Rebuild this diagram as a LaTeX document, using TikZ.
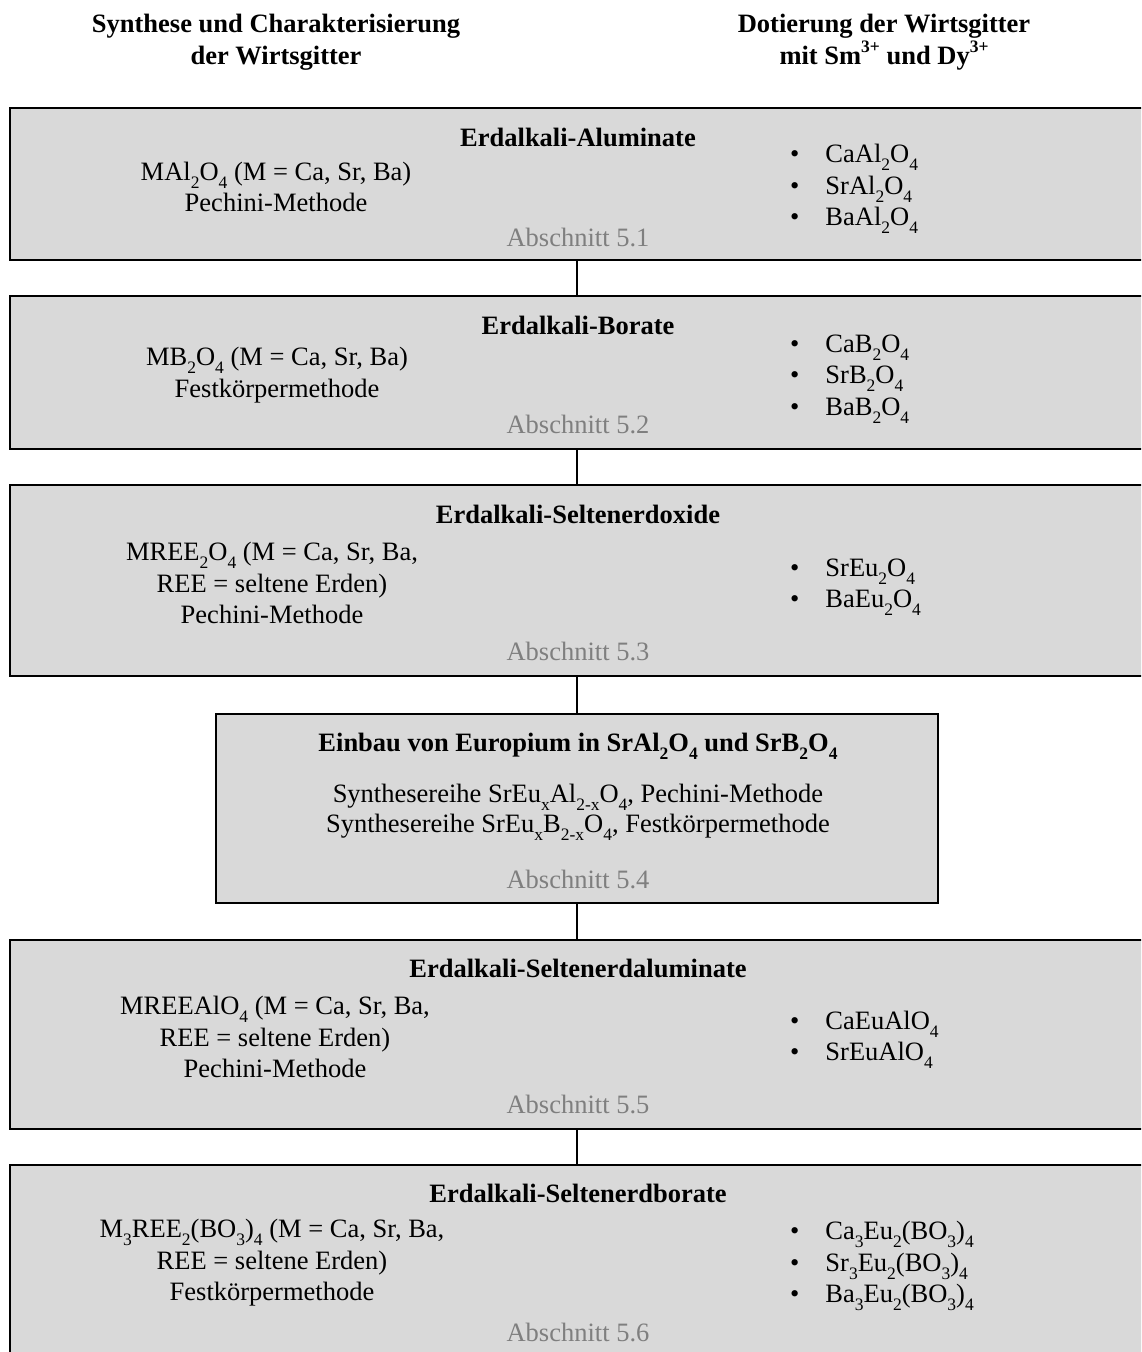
\documentclass[tikz,border=0pt]{standalone}
\usepackage{fontspec}
\setmainfont{Liberation Serif}
\newcommand{\chsub}[1]{\raisebox{-0.3em}{\fontsize{17.5}{17.5}\selectfont #1}}
\newcommand{\chsup}[1]{\raisebox{0.42em}{\fontsize{17.5}{17.5}\selectfont #1}}
\newcommand{\blt}{\textbullet\hspace{26pt}}
\definecolor{boxgray}{HTML}{D9D9D9}
\definecolor{secgray}{HTML}{7F7F7F}
\tikzset{
  box/.style={draw=black, fill=boxgray, line width=2.6pt, rectangle, outer sep=0pt, inner sep=0pt, anchor=north west},
  conn/.style={draw=black, line width=2.6pt},
  txt/.style={inner sep=0pt, font=\fontsize{26.5}{31.5}\selectfont, align=center},
  ttl/.style={txt, font=\fontsize{26.5}{31.5}\selectfont\bfseries},
  sec/.style={txt, text=secgray},
  blist/.style={txt, align=left, anchor=west},
}
\begin{document}
\begin{tikzpicture}[x=1pt,y=-1pt]
\useasboundingbox (0,0) rectangle (1141,1352);
\clip (0,0) rectangle (1141,1352);

% headers
\node[ttl] (hl) at (276,42) {Synthese und Charakterisierung\\der Wirtsgitter};
\node[ttl] (hr) at (884,42) {Dotierung der Wirtsgitter\\mit Sm\chsup{3+} und Dy\chsup{3+}};

% boxes
\node[box, minimum width=1180, minimum height=152] (b1) at (10,108) {};
\node[box, minimum width=1180, minimum height=153] (b2) at (10,296) {};
\node[box, minimum width=1180, minimum height=191] (b3) at (10,485) {};
\node[box, minimum width=722, minimum height=189] (b4) at (216,714) {};
\node[box, minimum width=1180, minimum height=189] (b5) at (10,940) {};
\node[box, minimum width=1180, minimum height=240] (b6) at (10,1165) {};

% connectors
\draw[conn] (b1.south -| b4.north) -- (b2.north -| b4.north);
\draw[conn] (b2.south -| b4.north) -- (b3.north -| b4.north);
\draw[conn] (b3.south -| b4.north) -- (b4.north);
\draw[conn] (b4.south) -- (b5.north -| b4.south);
\draw[conn] (b5.south -| b4.south) -- (b6.north -| b4.south);

% box 1
\node[ttl] (t1) at (578,137) {Erdalkali-Aluminate};
\node[txt] (l1) at (276,187) {MAl\chsub{2}O\chsub{4} (M = Ca, Sr, Ba)\\Pechini-Methode};
\node[blist] (r1) at (790,189) {\blt CaAl\chsub{2}O\chsub{4}\\\blt SrAl\chsub{2}O\chsub{4}\\\blt BaAl\chsub{2}O\chsub{4}};
\node[sec] (s1) at (578,237) {Abschnitt 5.1};

% box 2
\node[ttl] (t2) at (578,325) {Erdalkali-Borate};
\node[txt] (l2) at (277,375) {MB\chsub{2}O\chsub{4} (M = Ca, Sr, Ba)\\Festkörpermethode};
\node[blist] (r2) at (790,379) {\blt CaB\chsub{2}O\chsub{4}\\\blt SrB\chsub{2}O\chsub{4}\\\blt BaB\chsub{2}O\chsub{4}};
\node[sec] (s2) at (578,424) {Abschnitt 5.2};

% box 3
\node[ttl] (t3) at (578,514) {Erdalkali-Seltenerdoxide};
\node[txt] (l3) at (272,583) {MREE\chsub{2}O\chsub{4} (M = Ca, Sr, Ba,\\REE = seltene Erden)\\Pechini-Methode};
\node[blist] (r3) at (790,587) {\blt SrEu\chsub{2}O\chsub{4}\\\blt BaEu\chsub{2}O\chsub{4}};
\node[sec] (s3) at (578,651) {Abschnitt 5.3};

% box 4
\node[ttl] (t4) at (578,746) {Einbau von Europium in SrAl\chsub{2}O\chsub{4} und SrB\chsub{2}O\chsub{4}};
\node[txt, font=\fontsize{26.5}{30}\selectfont] (l4) at (578,812) {Synthesereihe SrEu\chsub{x}Al\chsub{2-x}O\chsub{4}, Pechini-Methode\\Synthesereihe SrEu\chsub{x}B\chsub{2-x}O\chsub{4}, Festkörpermethode};
\node[sec] (s4) at (578,879) {Abschnitt 5.4};

% box 5
\node[ttl] (t5) at (578,968) {Erdalkali-Seltenerdaluminate};
\node[txt] (l5) at (275,1037) {MREEAlO\chsub{4} (M = Ca, Sr, Ba,\\REE = seltene Erden)\\Pechini-Methode};
\node[blist] (r5) at (790,1040) {\blt CaEuAlO\chsub{4}\\\blt SrEuAlO\chsub{4}};
\node[sec] (s5) at (578,1104) {Abschnitt 5.5};

% box 6
\node[ttl] (t6) at (578,1193) {Erdalkali-Seltenerdborate};
\node[txt] (l6) at (272,1263) {M\chsub{3}REE\chsub{2}(BO\chsub{3})\chsub{4} (M = Ca, Sr, Ba,\\REE = seltene Erden)\\Festkörpermethode};
\node[blist] (r6) at (790,1266) {\blt Ca\chsub{3}Eu\chsub{2}(BO\chsub{3})\chsub{4}\\\blt Sr\chsub{3}Eu\chsub{2}(BO\chsub{3})\chsub{4}\\\blt Ba\chsub{3}Eu\chsub{2}(BO\chsub{3})\chsub{4}};
\node[sec] (s6) at (578,1332) {Abschnitt 5.6};
\end{tikzpicture}
\end{document}
